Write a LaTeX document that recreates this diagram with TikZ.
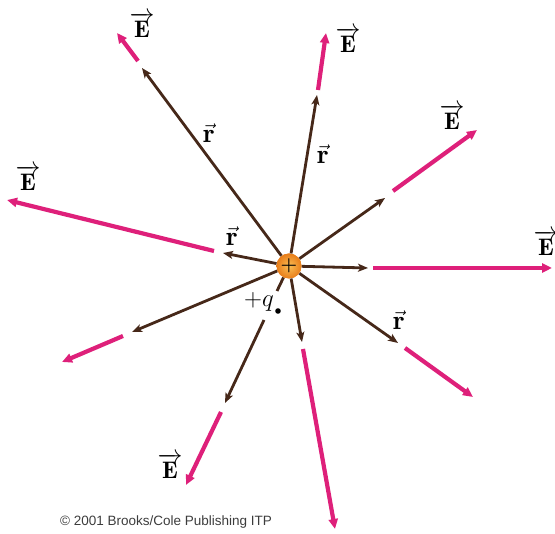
\documentclass[tikz,border=0pt]{standalone}
\usepackage{fontspec}
\newfontfamily\cpfont{Liberation Sans}
\usetikzlibrary{arrows.meta}
\definecolor{rbrown}{RGB}{70,40,25}
\definecolor{emag}{RGB}{222,32,122}
\definecolor{chin}{RGB}{250,190,85}
\definecolor{chout}{RGB}{232,125,25}
\tikzset{
  rvec/.style={draw=rbrown, line width=2.8pt, -{Stealth[length=10pt,width=8pt,inset=2.5pt]}},
  rline/.style={draw=rbrown, line width=2.8pt},
  evec/.style={draw=emag, line width=4.2pt, -{Triangle[length=10pt,width=9pt]}},
  elab/.style={font=\fontsize{24}{24}\selectfont, inner sep=0pt},
  rlab/.style={font=\fontsize{27}{27}\selectfont, inner sep=0pt},
  charge/.style={circle, minimum size=25pt, inner sep=0pt, inner color=chin, outer color=chout},
}
\begin{document}
\begin{tikzpicture}[x=1pt,y=-1pt]
\useasboundingbox (0,0) rectangle (555,534);
% brown r-vector tips
\coordinate (b1) at (142,68);
\coordinate (b2) at (317,95);
\coordinate (b3) at (385,198);
\coordinate (b4) at (368,268);
\coordinate (b5) at (398,343);
\coordinate (b6) at (302,342);
\coordinate (b7) at (225,403);
\coordinate (b8) at (132,332);
\coordinate (b9) at (223,253);
\coordinate (g7a) at (277,291);
\coordinate (g7b) at (264,320);
% magenta E-vector starts and ends
\coordinate (e1s) at (138,61);  \coordinate (e1t) at (117,33);
\coordinate (e2s) at (318,90);  \coordinate (e2t) at (326,33);
\coordinate (e3s) at (393,191); \coordinate (e3t) at (477,130);
\coordinate (e4s) at (373,268); \coordinate (e4t) at (552,268);
\coordinate (e5s) at (405,348); \coordinate (e5t) at (473,397);
\coordinate (e6s) at (303,349); \coordinate (e6t) at (335,529);
\coordinate (e7s) at (221,412); \coordinate (e7t) at (186,485);
\coordinate (e8s) at (123,336); \coordinate (e8t) at (62,362);
\coordinate (e9s) at (214,251); \coordinate (e9t) at (7,200);

\node[charge] (q) at (289,266) {};
\foreach \i in {1,2,3,4,5,6,8,9} \draw[rvec] (q) -- (b\i);
\draw[rline] (q) -- (g7a);
\draw[rvec] (g7b) -- (b7);
\foreach \i in {1,...,9} \draw[evec] (e\i s) -- (e\i t);
\node[charge] (qc) at (289,266) {\fontsize{19}{19}\selectfont\textbf{+}};

% labels
\node[elab] (E1) at (142,25) {$\overrightarrow{\mathbf{E}}$};
\node[elab] (E2) at (348,40) {$\overrightarrow{\mathbf{E}}$};
\node[elab] (E3) at (452,117) {$\overrightarrow{\mathbf{E}}$};
\node[elab] (E4) at (546,243) {$\overrightarrow{\mathbf{E}}$};
\node[elab] (E9) at (28,178) {$\overrightarrow{\mathbf{E}}$};
\node[elab] (E7) at (170,466) {$\overrightarrow{\mathbf{E}}$};
\node[rlab] (r1) at (209,133) {$\vec{\mathbf{r}}$};
\node[rlab] (r2) at (323,154) {$\vec{\mathbf{r}}$};
\node[rlab] (r3) at (232,236) {$\vec{\mathbf{r}}$};
\node[rlab] (r4) at (399,320) {$\vec{\mathbf{r}}$};
\node[font=\fontsize{23}{23}\selectfont, inner sep=0pt] (ql) at (259,302) {$+q$};
\fill (278,311) circle (2.8pt);
\node[font=\cpfont\fontsize{13.5}{14}\selectfont, text={rgb,255:red,60;green,60;blue,60}, inner sep=0pt] (cp) at (166,522) {© 2001 Brooks/Cole Publishing ITP};
\end{tikzpicture}
\end{document}
